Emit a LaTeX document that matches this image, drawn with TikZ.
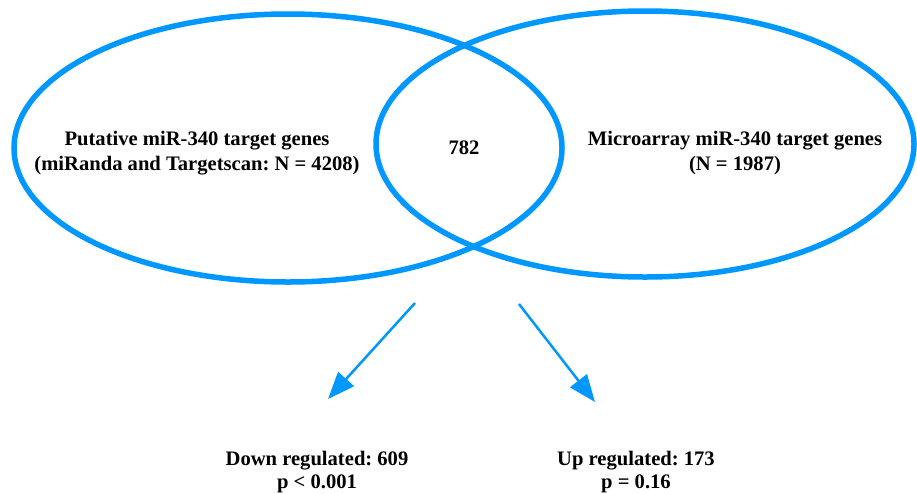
\documentclass[tikz,border=0pt]{standalone}
\usepackage{fontspec}
\setmainfont{Liberation Serif}
\usetikzlibrary{arrows.meta}
\definecolor{vennblue}{RGB}{0,152,255}
\frenchspacing
\begin{document}
\begin{tikzpicture}[x=1pt,y=-1pt,
  setline/.style={draw=vennblue,line width=5.5pt},
  arrowline/.style={draw=vennblue,line width=2.5pt,-{Triangle[length=27pt,width=21pt]}},
  lbl/.style={font=\fontsize{20.6}{25}\selectfont\bfseries,inner sep=0pt,anchor=base,text=black}]
\useasboundingbox (0,0) rectangle (917,493);
\fill[white] (0,0) rectangle (917,493);
% sets
\draw[setline] (288,148) ellipse [x radius=274, y radius=134];
\draw[setline] (645,144) ellipse [x radius=269, y radius=133];
% labels
\node[lbl] (l1) at (197,145) {Putative miR-340 target genes};
\node[lbl] (l2) at (197,170) {(miRanda and Targetscan: N = 4208)};
\node[lbl] (c) at (464,154) {782};
\node[lbl] (r1) at (735,145) {Microarray miR-340 target genes};
\node[lbl] (r2) at (735,170) {(N = 1987)};
\node[lbl] (d1) at (317,465) {Down regulated: 609};
\node[lbl] (d2) at (317,488) {p < 0.001};
\node[lbl] (u1) at (636,465) {Up regulated: 173};
\node[lbl] (u2) at (636,488) {p = 0.16};
% arrows
\coordinate (as) at (415,303);
\coordinate (at) at (328,399);
\coordinate (bs) at (519,304);
\coordinate (bt) at (595,402);
\draw[arrowline] (as) -- (at);
\draw[arrowline] (bs) -- (bt);
\end{tikzpicture}
\end{document}
